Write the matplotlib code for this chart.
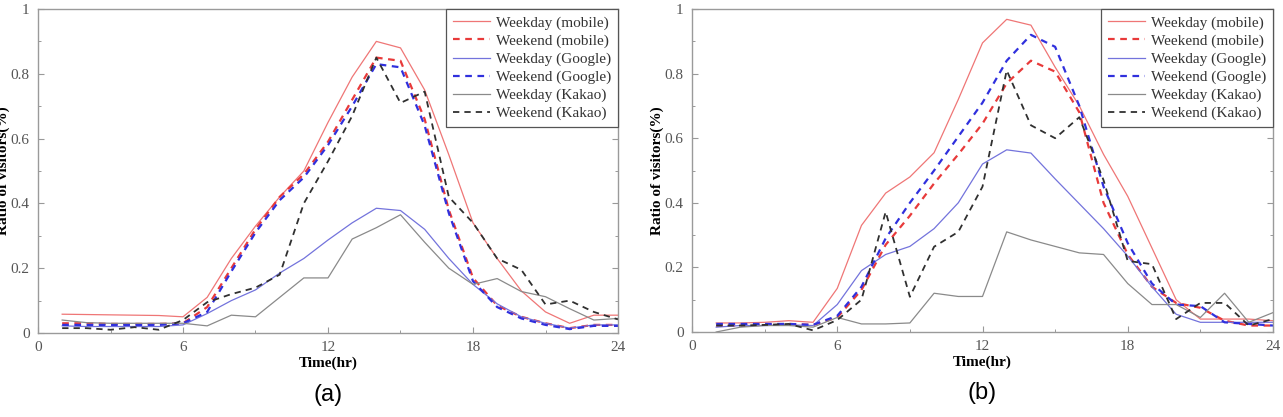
import numpy as np
import matplotlib
matplotlib.use("Agg")
import matplotlib.pyplot as plt
from matplotlib.ticker import MultipleLocator

# ─────────────────────────────────────────────
# Daten
# ─────────────────────────────────────────────
hours = list(range(1, 25))

labels = ["Weekday (mobile)", "Weekend (mobile)", "Weekday (Google)",
          "Weekend (Google)", "Weekday (Kakao)", "Weekend (Kakao)"]

# (a)
a_wd_mobile = [0.058, 0.057, 0.056, 0.055, 0.054, 0.050, 0.11, 0.23, 0.33, 0.42, 0.50, 0.65,
               0.79, 0.90, 0.88, 0.75, 0.55, 0.34, 0.23, 0.13, 0.065, 0.03, 0.055, 0.055]
a_we_mobile = [0.03, 0.03, 0.028, 0.028, 0.028, 0.03, 0.08, 0.20, 0.32, 0.42, 0.49, 0.59,
               0.72, 0.85, 0.84, 0.66, 0.38, 0.17, 0.085, 0.05, 0.03, 0.015, 0.025, 0.025]
a_wd_google = [0.022, 0.02, 0.02, 0.02, 0.02, 0.025, 0.06, 0.10, 0.133, 0.185, 0.23, 0.287,
               0.34, 0.385, 0.378, 0.32, 0.23, 0.15, 0.09, 0.05, 0.03, 0.015, 0.025, 0.025]
a_we_google = [0.025, 0.025, 0.025, 0.025, 0.025, 0.03, 0.065, 0.19, 0.31, 0.41, 0.48, 0.58,
               0.70, 0.83, 0.82, 0.64, 0.37, 0.16, 0.08, 0.045, 0.025, 0.012, 0.022, 0.022]
a_wd_kakao = [0.04, 0.032, 0.03, 0.03, 0.03, 0.03, 0.022, 0.055, 0.05, 0.11, 0.17, 0.17,
              0.29, 0.325, 0.365, 0.28, 0.20, 0.15, 0.168, 0.128, 0.112, 0.075, 0.04, 0.045]
a_we_kakao = [0.015, 0.015, 0.01, 0.018, 0.01, 0.04, 0.095, 0.12, 0.14, 0.18, 0.40, 0.53,
              0.67, 0.85, 0.71, 0.745, 0.42, 0.34, 0.23, 0.195, 0.088, 0.10, 0.065, 0.042]

# (b)
b_wd_mobile = [0.028, 0.028, 0.03, 0.035, 0.03, 0.135, 0.33, 0.43, 0.48, 0.555, 0.72, 0.895,
               0.968, 0.95, 0.82, 0.70, 0.55, 0.42, 0.26, 0.10, 0.04, 0.04, 0.04, 0.035]
b_we_mobile = [0.02, 0.02, 0.022, 0.025, 0.022, 0.045, 0.13, 0.27, 0.36, 0.46, 0.55, 0.645,
               0.77, 0.84, 0.806, 0.68, 0.40, 0.24, 0.14, 0.09, 0.075, 0.035, 0.02, 0.02]
b_wd_google = [0.015, 0.02, 0.02, 0.022, 0.02, 0.085, 0.19, 0.24, 0.265, 0.32, 0.40, 0.52,
               0.564, 0.554, 0.474, 0.397, 0.32, 0.235, 0.14, 0.055, 0.03, 0.03, 0.03, 0.03]
b_we_google = [0.025, 0.025, 0.025, 0.025, 0.022, 0.05, 0.14, 0.29, 0.40, 0.50, 0.605, 0.71,
               0.84, 0.92, 0.883, 0.70, 0.45, 0.275, 0.15, 0.085, 0.08, 0.03, 0.025, 0.02]
b_wd_kakao = [0.0, 0.015, 0.02, 0.02, 0.015, 0.045, 0.025, 0.025, 0.028, 0.12, 0.11, 0.11,
              0.31, 0.285, 0.265, 0.245, 0.24, 0.15, 0.085, 0.085, 0.045, 0.12, 0.03, 0.06]
b_we_kakao = [0.02, 0.02, 0.022, 0.025, 0.005, 0.037, 0.10, 0.372, 0.109, 0.264, 0.31, 0.45,
              0.81, 0.64, 0.60, 0.665, 0.47, 0.22, 0.21, 0.04, 0.09, 0.09, 0.02, 0.04]

panel_a = [a_wd_mobile, a_we_mobile, a_wd_google, a_we_google, a_wd_kakao, a_we_kakao]
panel_b = [b_wd_mobile, b_we_mobile, b_wd_google, b_we_google, b_wd_kakao, b_we_kakao]

# Linienstile
styles = [
    dict(color="#ef7676", lw=0.9, ls="-"),
    dict(color="#e83a3a", lw=1.6, ls=(0, (3, 2.5))),
    dict(color="#7373dc", lw=0.9, ls="-"),
    dict(color="#3030dd", lw=1.6, ls=(0, (3, 2.5))),
    dict(color="#8a8a8a", lw=0.9, ls="-"),
    dict(color="#303030", lw=1.3, ls=(0, (3.5, 2.8))),
]

serif = "Liberation Serif"

# ─────────────────────────────────────────────
# Plot
# ─────────────────────────────────────────────
fig = plt.figure(figsize=(12.83, 4.17), dpi=100)
ax_a = fig.add_axes([38 / 1283, 84 / 417, 580 / 1283, 324 / 417])
ax_b = fig.add_axes([692 / 1283, 85 / 417, 581 / 1283, 323 / 417])

for ax, data, tag in [(ax_a, panel_a, "(a)"), (ax_b, panel_b, "(b)")]:
    for series, st, lab in zip(data, styles, labels):
        ax.plot(hours, series, label=lab, **st)

    ax.set_xlim(0, 24)
    ax.set_ylim(0, 1)
    ax.xaxis.set_major_locator(MultipleLocator(6))
    ax.xaxis.set_minor_locator(MultipleLocator(3))
    ax.yaxis.set_minor_locator(MultipleLocator(0.1))
    ax.set_yticks([0, 0.2, 0.4, 0.6, 0.8, 1])
    ax.set_yticklabels(["0", "0.2", "0.4", "0.6", "0.8", "1"])
    ax.tick_params(which="both", direction="in", right=True, colors="#999999",
                   labelcolor="#555555", labelsize=11, pad=6)
    ax.tick_params(which="major", length=4, width=0.8)
    ax.tick_params(which="minor", length=2.5, width=0.7)
    for lbl in ax.get_xticklabels() + ax.get_yticklabels():
        lbl.set_fontfamily(serif)
    for sp in ax.spines.values():
        sp.set_color("#9a9a9a")
        sp.set_linewidth(1.0)

    ax.set_xlabel("Time(hr)", fontfamily=serif, fontweight="bold", fontsize=11)
    ax.set_ylabel("Ratio of visitors(%)", fontfamily=serif, fontweight="bold", fontsize=11)
    ax.yaxis.set_label_coords(-0.048, 0.5)
    ax.xaxis.set_label_coords(0.5, -0.074)

    leg = ax.legend(loc="upper right", borderaxespad=0, fancybox=False, framealpha=1,
                    edgecolor="#555555", handlelength=2.4, handletextpad=0.4,
                    labelspacing=0.28, borderpad=0.45,
                    prop={"family": serif, "size": 11})
    leg.get_frame().set_linewidth(0.9)
    for t in leg.get_texts():
        t.set_color("#333333")

    ax.text(0.5, -0.19, tag, transform=ax.transAxes, ha="center", va="center",
            fontsize=17, fontfamily="Liberation Sans")

fig.savefig("out.png", dpi=100)
